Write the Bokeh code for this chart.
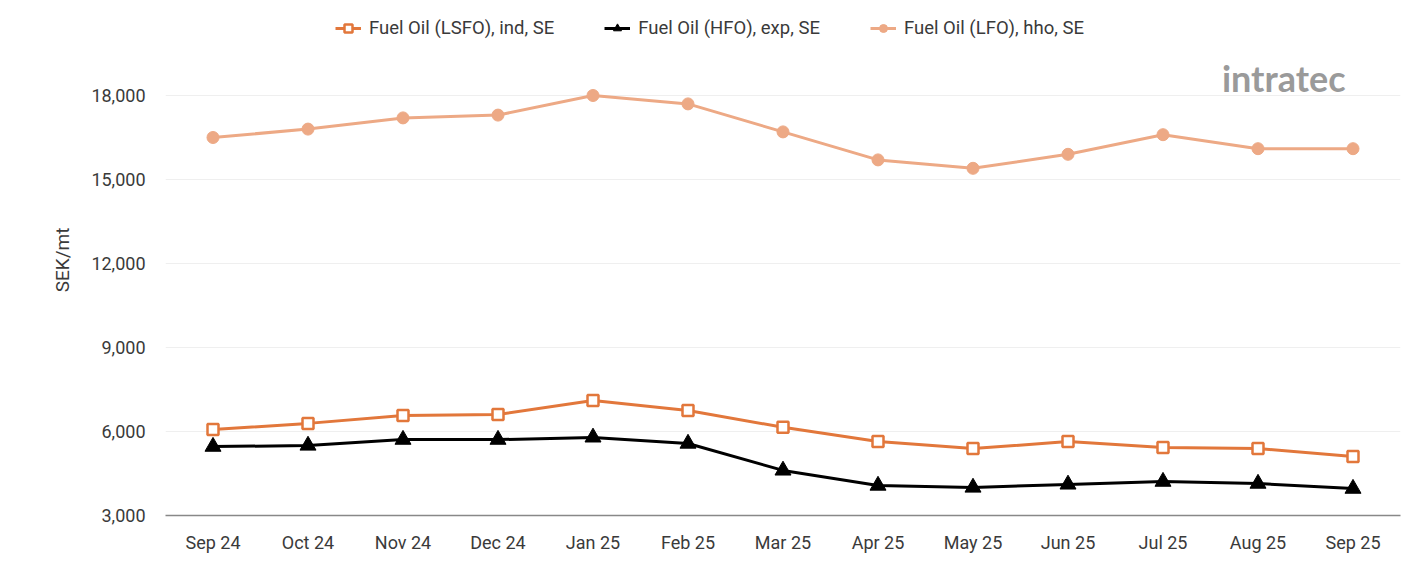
from bokeh.plotting import figure
from bokeh.models import FactorRange, Range1d, Legend, LegendItem, NumeralTickFormatter, Label, FixedTicker
from bokeh.embed import file_html
from bokeh.resources import INLINE

months = ["Sep 24", "Oct 24", "Nov 24", "Dec 24", "Jan 25", "Feb 25", "Mar 25",
          "Apr 25", "May 25", "Jun 25", "Jul 25", "Aug 25", "Sep 25"]
lsfo = [6070, 6290, 6570, 6610, 7110, 6750, 6150, 5640, 5390, 5640, 5430, 5390, 5110]
hfo = [5460, 5500, 5710, 5710, 5790, 5570, 4610, 4070, 4000, 4110, 4210, 4140, 3960]
lfo = [16500, 16800, 17200, 17300, 18000, 17700, 16700, 15700, 15400, 15900, 16600, 16100, 16100]
y_ticks = [3000, 6000, 9000, 12000, 15000, 18000]

C_LSFO = "#E2773B"
C_HFO = "#000000"
C_LFO = "#EDA985"
FONT = "Roboto"

W, H = 1401, 561
B_TOP, B_BOT, B_LEFT, B_RIGHT = 4, 46, 165, 1
frame_h = H - B_TOP - B_BOT
px_per_unit = 420 / 15000.0
y_end = 3000 + frame_h / px_per_unit

p = figure(width=W, height=H, x_range=FactorRange(*months, range_padding=0),
           y_range=Range1d(3000, y_end), output_backend="svg", toolbar_location=None,
           min_border_top=B_TOP, min_border_bottom=B_BOT, min_border_left=B_LEFT,
           min_border_right=B_RIGHT)
p.outline_line_color = None
p.xgrid.grid_line_color = None
p.ygrid.grid_line_color = "#EFEFEF"
p.ygrid.grid_line_width = 1

p.yaxis.ticker = FixedTicker(ticks=y_ticks)
p.yaxis.formatter = NumeralTickFormatter(format="0,0")
p.yaxis.axis_line_color = None
p.yaxis.major_tick_line_color = None
p.yaxis.minor_tick_line_color = None
p.yaxis.major_tick_out = 0
p.yaxis.major_tick_in = 0
p.yaxis.major_label_text_font = FONT
p.yaxis.major_label_text_font_size = "18px"
p.yaxis.major_label_text_color = "#3a3a3a"
p.yaxis.major_label_standoff = 20
p.yaxis.axis_label = "SEK/mt"
p.yaxis.axis_label_text_font = FONT
p.yaxis.axis_label_text_font_size = "19px"
p.yaxis.axis_label_text_font_style = "normal"
p.yaxis.axis_label_text_color = "#3a3a3a"
p.yaxis.axis_label_standoff = 14

p.xaxis.axis_line_color = "#888888"
p.xaxis.axis_line_width = 1.5
p.xaxis.major_tick_line_color = None
p.xaxis.minor_tick_line_color = None
p.xaxis.major_tick_out = 0
p.xaxis.major_tick_in = 0
p.xaxis.major_label_text_font = FONT
p.xaxis.major_label_text_font_size = "18px"
p.xaxis.major_label_text_color = "#3a3a3a"
p.xaxis.major_label_standoff = 16

l1 = p.line(months, lsfo, line_color=C_LSFO, line_width=3)
m1 = p.scatter(months, lsfo, marker="square", size=11, fill_color="white",
               line_color=C_LSFO, line_width=2.5)
l2 = p.line(months, hfo, line_color=C_HFO, line_width=3)
m2 = p.scatter(months, hfo, marker="triangle", size=16, fill_color=C_HFO,
               line_color=C_HFO)
l3 = p.line(months, lfo, line_color=C_LFO, line_width=3)
m3 = p.scatter(months, lfo, marker="circle", size=12, fill_color=C_LFO,
               line_color=C_LFO)

legend = Legend(items=[
    LegendItem(label="Fuel Oil (LSFO), ind, SE", renderers=[l1, m1]),
    LegendItem(label="Fuel Oil (HFO), exp, SE", renderers=[l2, m2]),
    LegendItem(label="Fuel Oil (LFO), hho, SE", renderers=[l3, m3]),
], orientation="horizontal", location=(170, 476))
legend.border_line_color = None
legend.background_fill_alpha = 0
legend.padding = 0
legend.margin = 0
legend.spacing = 50
legend.glyph_width = 26
legend.label_standoff = 8
legend.label_text_font = FONT
legend.label_text_font_size = "18.5px"
legend.label_text_color = "#3a3a3a"
p.add_layout(legend, "center")

logo = Label(x=11.12, y=18640, text="intratec", text_font="Lato",
             text_font_size="36px", text_color="#9A9A9A", text_font_style="bold",
             text_baseline="alphabetic")
p.add_layout(logo)

open("out.html", "w").write(file_html(p, INLINE))
